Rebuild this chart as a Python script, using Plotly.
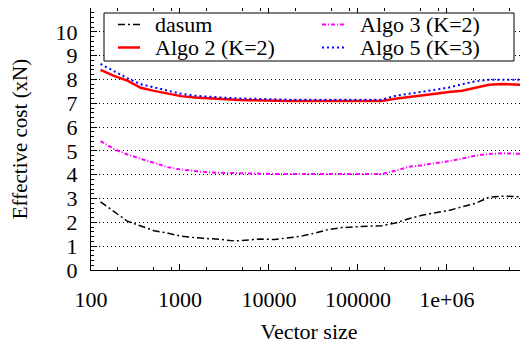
import plotly.graph_objects as go

vector_size = [128, 181, 256, 362, 512, 724, 1024, 1448, 2048, 2896, 4096, 5793, 8192,
               11585, 16384, 23170, 32768, 46341, 65536, 92682, 131072, 185364, 262144,
               370728, 524288, 741455, 1048576, 1482910, 2097152, 2965821, 4194304,
               5931642, 8388608]

dasum = [2.86, 2.45, 2.05, 1.85, 1.65, 1.55, 1.42, 1.36, 1.33, 1.28, 1.22, 1.27, 1.30,
         1.28, 1.34, 1.42, 1.55, 1.70, 1.78, 1.82, 1.84, 1.86, 1.97, 2.15, 2.30, 2.40,
         2.50, 2.65, 2.80, 3.05, 3.10, 3.08, 3.08]
algo2 = [8.40, 8.15, 7.95, 7.65, 7.52, 7.40, 7.30, 7.24, 7.20, 7.17, 7.15, 7.13, 7.11,
         7.10, 7.10, 7.10, 7.10, 7.10, 7.10, 7.10, 7.10, 7.10, 7.19, 7.27, 7.33, 7.40,
         7.47, 7.53, 7.65, 7.78, 7.81, 7.78, 7.76]
algo3 = [5.41, 5.08, 4.85, 4.68, 4.48, 4.32, 4.22, 4.15, 4.10, 4.08, 4.06, 4.05, 4.04,
         4.03, 4.03, 4.03, 4.03, 4.03, 4.03, 4.03, 4.03, 4.03, 4.17, 4.33, 4.40, 4.48,
         4.57, 4.68, 4.80, 4.87, 4.90, 4.88, 4.87]
algo5 = [8.65, 8.35, 8.05, 7.80, 7.66, 7.52, 7.40, 7.32, 7.27, 7.24, 7.21, 7.19, 7.17,
         7.15, 7.15, 7.15, 7.15, 7.15, 7.15, 7.15, 7.15, 7.15, 7.31, 7.40, 7.50, 7.57,
         7.66, 7.80, 7.92, 7.99, 8.00, 7.99, 7.98]

series_names = ["dasum", "Algo 2 (K=2)", "Algo 3 (K=2)", "Algo 5 (K=3)"]

x_tickvals = [100, 1000, 10000, 100000, 1000000]
x_ticktext = ["100", "1000", "10000", "100000", "1e+06"]
x_minor = [200, 500, 800, 2000, 5000, 8000, 20000, 50000, 80000, 200000, 500000, 800000,
           2000000, 5000000]
y_tickvals = list(range(0, 11))

FONT = "Liberation Serif"

styles = {
    "dasum": dict(color="black", width=1.5, dash="7px,3px,2px,3px"),
    "Algo 2 (K=2)": dict(color="#ff0000", width=2.5),
    "Algo 3 (K=2)": dict(color="#ff00ff", width=2, dash="4px,2px,1px,2px"),
    "Algo 5 (K=3)": dict(color="#0000ff", width=2, dash="2px,3px"),
}
values = {"dasum": dasum, "Algo 2 (K=2)": algo2, "Algo 3 (K=2)": algo3,
          "Algo 5 (K=3)": algo5}

fig = go.Figure()
for name in series_names:
    fig.add_trace(go.Scatter(x=vector_size, y=values[name], name=name, mode="lines",
                             line=styles[name], showlegend=False))

# figure geometry (page body adds an 8px offset)
W, H = 520, 339
ML, MR, MT, MB = 83, 1, 0, 77
OFF = 8
pl, pr = OFF + ML, OFF + W - MR
pt, pb = OFF + MT, OFF + H - MB


def px(xp):
    return (xp - pl) / (pr - pl)


def py(yp):
    return (pb - yp) / (pb - pt)


# legend box (drawn as shapes + annotations, in gnuplot style)
shapes = [dict(type="rect", xref="paper", yref="paper",
               x0=px(104), x1=px(514), y0=py(61), y1=py(13),
               fillcolor="white", line=dict(color="black", width=1), layer="above")]
annotations = []
legend_slots = {
    "dasum": (118, 140, 153, 24.5),
    "Algo 2 (K=2)": (118, 140, 153, 47.5),
    "Algo 3 (K=2)": (322, 344, 358, 24.5),
    "Algo 5 (K=3)": (322, 344, 358, 47.5),
}
for name in series_names:
    x0, x1, xt, yr = legend_slots[name]
    st = styles[name]
    shapes.append(dict(type="line", xref="paper", yref="paper",
                       x0=px(x0), x1=px(x1), y0=py(yr), y1=py(yr),
                       line=dict(color=st["color"], width=st["width"],
                                 dash=st.get("dash", "solid")),
                       layer="above"))
    annotations.append(dict(text=name, xref="paper", yref="paper", x=px(xt), y=py(yr),
                            xanchor="left", yanchor="middle", showarrow=False,
                            font=dict(family=FONT, size=22, color="black")))

fig.update_layout(
    width=W, height=H,
    margin=dict(l=ML, r=MR, t=MT, b=MB),
    paper_bgcolor="white", plot_bgcolor="white",
    font=dict(family=FONT, size=21, color="black"),
    showlegend=False,
    shapes=shapes,
    annotations=annotations,
)
fig.update_xaxes(
    type="log", range=[2, 6.9],
    tickvals=x_tickvals, ticktext=x_ticktext,
    ticks="inside", ticklen=6, tickcolor="black", tickwidth=1,
    minor=dict(tickvals=x_minor, ticks="inside", ticklen=3, tickcolor="black"),
    showline=True, linecolor="black", linewidth=1, mirror="ticks",
    showgrid=False, zeroline=False,
    ticklabelstandoff=10,
    title=dict(text="Vector size", standoff=12, font=dict(family=FONT, size=22)),
    tickfont=dict(family=FONT, size=22),
)
fig.update_yaxes(
    range=[0, 11],
    tickvals=y_tickvals,
    ticks="inside", ticklen=6, tickcolor="black", tickwidth=1,
    minor=dict(dtick=0.2, ticks="inside", ticklen=3, tickcolor="black"),
    showline=True, linecolor="black", linewidth=1, mirror="ticks",
    showgrid=True, gridcolor="black", griddash="1px,3px", gridwidth=1,
    zeroline=False,
    ticklabelstandoff=8,
    title=dict(text="Effective cost (xN)", standoff=28, font=dict(family=FONT, size=21)),
    tickfont=dict(family=FONT, size=22),
)

fig.write_html("out.html")
